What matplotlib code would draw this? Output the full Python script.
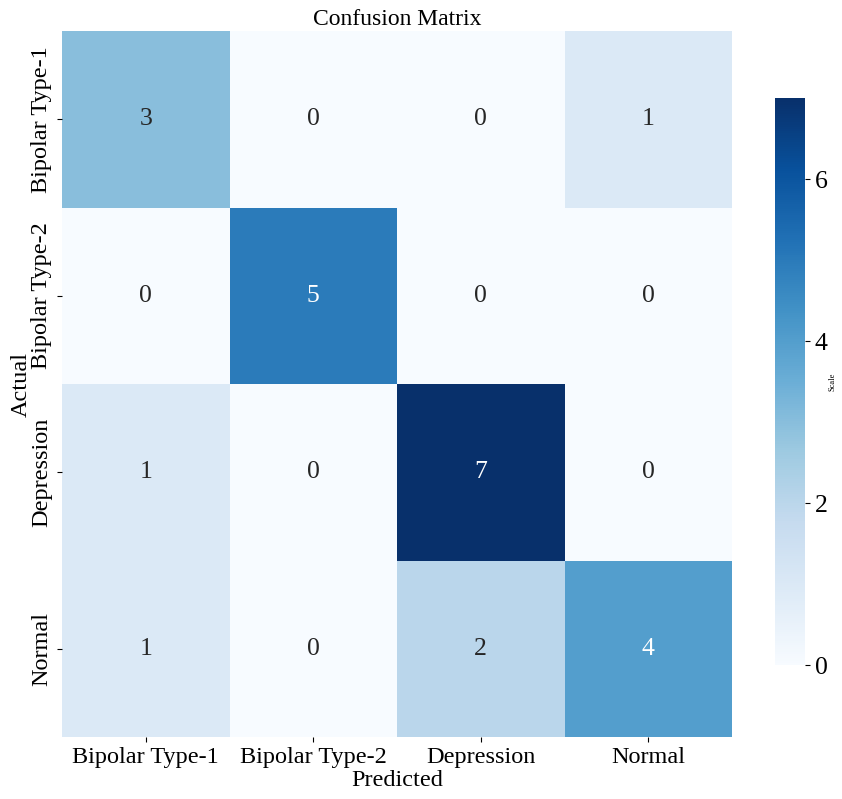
import matplotlib
matplotlib.use("Agg")
import matplotlib.pyplot as plt
import seaborn as sns
import numpy as np

labels = ["Bipolar Type-1", "Bipolar Type-2", "Depression", "Normal"]
row0 = [3, 0, 0, 1]
row1 = [0, 5, 0, 0]
row2 = [1, 0, 7, 0]
row3 = [1, 0, 2, 4]
cm = np.array([row0, row1, row2, row3])
cbar_ticks = [0, 2, 4, 6]

plt.rcParams['font.family'] = ['Liberation Serif', 'DejaVu Serif']

fig = plt.figure(figsize=(8.42, 7.99), dpi=100)
W, H = 842, 799
ax = fig.add_axes([62 / W, 1 - 737 / H, 670 / W, 706 / H])
cax = fig.add_axes([775 / W, 1 - 665 / H, 30 / W, 567 / H])

sns.heatmap(cm, annot=True, fmt="d", cmap="Blues", ax=ax, cbar_ax=cax,
            xticklabels=labels, yticklabels=labels,
            annot_kws={"fontsize": 18.5})
ax.set_title("Confusion Matrix", fontsize=17, pad=4)
ax.set_xlabel("Predicted", fontsize=17.5, labelpad=2)
ax.set_ylabel("Actual", fontsize=17.5, labelpad=0)
ax.tick_params(axis='both', labelsize=17.5)
plt.setp(ax.get_yticklabels(), rotation=90, va='center')
plt.setp(ax.get_xticklabels(), rotation=0)
cax.set_yticks(cbar_ticks)
cax.tick_params(labelsize=18.5)
cax.set_ylabel("Scale", fontsize=6, labelpad=1)

fig.savefig("out.png", dpi=100)
